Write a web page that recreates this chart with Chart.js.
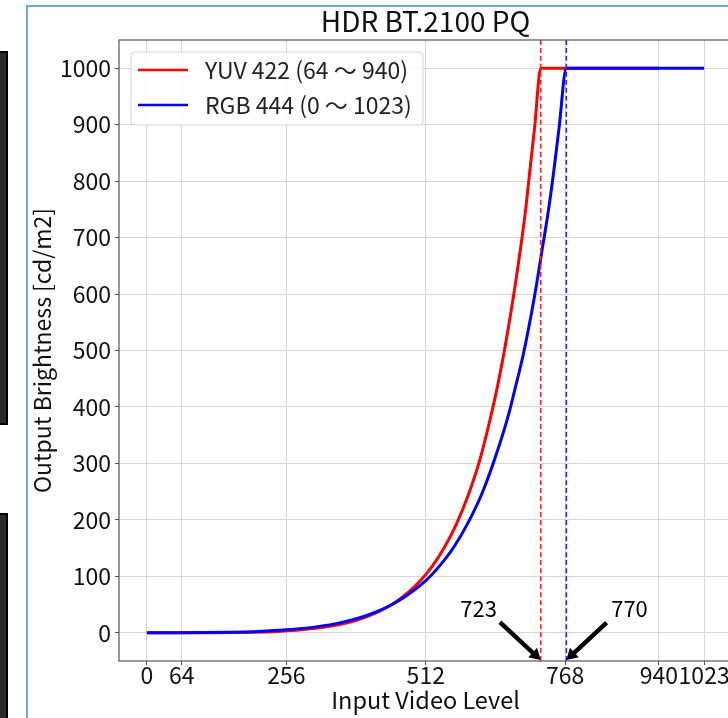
<!DOCTYPE html>
<html>
<head>
<meta charset="utf-8">
<script src="https://cdn.jsdelivr.net/npm/chart.js@4"></script>
<style>
  html, body { margin: 0; padding: 0; background: #fff; overflow: hidden; width: 728px; height: 718px; }
  #frame { position: absolute; left: 26px; top: 5px; width: 760px; height: 760px; border: 2px solid #6ea6df; }
  .blk { position: absolute; left: -2px; width: 6px; background: #2b2b2b; border: 2px solid #000; }
  #wrap { position: absolute; left: 0; top: 0; width: 760px; height: 718px; }
</style>
</head>
<body>
<div class="blk" style="top:51px;height:370px"></div>
<div class="blk" style="top:513px;height:220px"></div>
<div id="frame"></div>
<div id="wrap"><canvas id="chart" width="760" height="718"></canvas></div>
<script>
/* HDR BT.2100 PQ — input level vs output brightness */

const FONT = "'Noto Sans CJK JP', 'Noto Sans', sans-serif";

// ── Data ──────────────────────────────────────────────────────────────────
const yuvLevel = [0, 64, 108, 152, 195, 239, 283, 327, 371, 414, 458, 502, 524, 546, 568, 590,
                  612, 633, 642, 655, 668, 677, 686, 695, 703, 712, 723, 940];
const yuvNits  = [0, 0, 0.06, 0.32, 1.0, 2.4, 5.2, 10, 18.4, 32.5, 55.4, 92.3, 118, 151, 192, 244,
                  309, 390, 429, 493, 566, 621, 681, 747, 818, 897, 1000, 1000];
const rgbLevel = [0, 51, 102, 153, 205, 256, 307, 358, 409, 460, 512, 537, 563, 588, 614, 639,
                  665, 675, 691, 706, 716, 726, 737, 747, 757, 770, 1023];
const rgbNits  = [0, 0.06, 0.32, 1.0, 2.4, 5.2, 10, 18.4, 32.5, 55.4, 92.3, 118, 151, 192, 244, 309,
                  390, 429, 493, 566, 621, 681, 747, 818, 897, 1000, 1000];

const seriesNames = ['YUV 422 (64 ～ 940)', 'RGB 444 (0 ～ 1023)'];
const xTicks      = [0, 64, 256, 512, 768, 940, 1023];
const yTicks      = [0, 100, 200, 300, 400, 500, 600, 700, 800, 900, 1000];
const xRange      = [-51.15, 1074.15];
const yRange      = [-50, 1050];

// clip points + their callouts (data units)
const clipLevels  = [723, 770];
const noteText    = ['723', '770'];
const noteX       = [609, 886];
const noteY       = [42.5, 42.5];
const arrowTailX  = [648, 844];
const arrowTailY  = [19, 18];

const toXY = (xs, ys) => xs.map((x, i) => ({ x, y: ys[i] }));

// ── Plugin: spines, arrows, callout text, legend ──────────────────────────
const decorations = {
    id: 'decorations',
    afterDraw(chart) {
        const { ctx, chartArea: a, scales: { x, y } } = chart;
        ctx.save();

        // axes box
        ctx.strokeStyle = '#555';
        ctx.lineWidth = 1.2;
        ctx.strokeRect(a.left, a.top, a.right - a.left, a.bottom - a.top);

        // arrows
        ctx.fillStyle = '#000';
        clipLevels.forEach((lv, i) => {
            const x1 = x.getPixelForValue(arrowTailX[i]), y1 = y.getPixelForValue(arrowTailY[i]);
            const x2 = x.getPixelForValue(lv),            y2 = y.getPixelForValue(yRange[0]) - 1;
            const len = Math.hypot(x2 - x1, y2 - y1);
            const ux = (x2 - x1) / len, uy = (y2 - y1) / len;
            const px = -uy, py = ux;
            const head = 11, hw = 6.5, sw = 2.2;
            const bx = x2 - ux * head, by = y2 - uy * head;
            ctx.beginPath();
            ctx.moveTo(x1 + px * sw, y1 + py * sw);
            ctx.lineTo(bx + px * sw, by + py * sw);
            ctx.lineTo(bx + px * hw, by + py * hw);
            ctx.lineTo(x2, y2);
            ctx.lineTo(bx - px * hw, by - py * hw);
            ctx.lineTo(bx - px * sw, by - py * sw);
            ctx.lineTo(x1 - px * sw, y1 - py * sw);
            ctx.closePath();
            ctx.fill();

            ctx.font = `22px ${FONT}`;
            ctx.textAlign = 'center';
            ctx.textBaseline = 'middle';
            ctx.fillText(noteText[i], x.getPixelForValue(noteX[i]), y.getPixelForValue(noteY[i]));
        });

        // legend
        const lx = a.left + 12, ly = a.top + 12, lw = 292, lh = 73;
        ctx.beginPath();
        ctx.roundRect(lx, ly, lw, lh, 4);
        ctx.fillStyle = 'rgba(255,255,255,0.85)';
        ctx.fill();
        ctx.strokeStyle = '#d4d4d4';
        ctx.lineWidth = 1;
        ctx.stroke();
        const legendSets = [chart.data.datasets[2], chart.data.datasets[1]];
        legendSets.forEach((ds, i) => {
            const rowY = ly + 18 + i * 35;
            ctx.strokeStyle = ds.borderColor;
            ctx.lineWidth = 2.5;
            ctx.beginPath();
            ctx.moveTo(lx + 7, rowY);
            ctx.lineTo(lx + 57, rowY);
            ctx.stroke();
            ctx.fillStyle = '#222';
            ctx.font = `23px ${FONT}`;
            ctx.textAlign = 'left';
            ctx.textBaseline = 'middle';
            ctx.fillText(ds.label, lx + 74, rowY);
        });

        ctx.restore();
    }
};

// ── Chart ─────────────────────────────────────────────────────────────────
new Chart(document.getElementById('chart'), {
    type: 'scatter',
    data: {
        datasets: [
            { label: 'clip RGB', data: toXY([770, 770], yRange), borderColor: '#1f1fff',
              borderDash: [5, 3], borderWidth: 1.5, order: 0 },
            { label: seriesNames[1], data: toXY(rgbLevel, rgbNits), borderColor: '#0000ff',
              borderWidth: 3, order: 1 },
            { label: seriesNames[0], data: toXY(yuvLevel, yuvNits), borderColor: '#ff0000',
              borderWidth: 3, order: 2 },
            { label: 'clip YUV', data: toXY([723, 723], yRange), borderColor: '#ff1f1f',
              borderDash: [5, 3], borderWidth: 1.5, order: 0 }
        ].map(ds => ({ ...ds, showLine: true, pointRadius: 0, fill: false,
                       cubicInterpolationMode: 'monotone', backgroundColor: ds.borderColor }))
    },
    options: {
        responsive: false,
        animation: false,
        layout: { padding: { left: 28, right: 28, top: 0, bottom: 0 } },
        plugins: {
            legend: { display: false },
            tooltip: { enabled: false },
            title: {
                display: true,
                fullSize: false,
                text: 'HDR BT.2100 PQ',
                color: '#111',
                font: { family: FONT, size: 28, weight: 'normal' },
                padding: { top: 5, bottom: 1.4 }
            }
        },
        scales: {
            x: {
                type: 'linear',
                min: xRange[0],
                max: xRange[1],
                afterBuildTicks: s => { s.ticks = xTicks.map(v => ({ value: v })); },
                afterFit: s => { s.height = 57; },
                ticks: { autoSkip: false, maxRotation: 0, minRotation: 0, padding: -4,
                         color: '#111', font: { family: FONT, size: 23 }, callback: v => String(v) },
                grid: { color: '#d6d6d6', tickColor: '#555', tickLength: 4 },
                border: { display: false },
                title: { display: true, text: 'Input Video Level', color: '#111',
                         font: { family: FONT, size: 23.5 }, padding: { top: 0, bottom: 4 } }
            },
            y: {
                min: yRange[0],
                max: yRange[1],
                afterBuildTicks: s => { s.ticks = yTicks.map(v => ({ value: v })); },
                afterFit: s => { s.width = 91; },
                ticks: { padding: 4, color: '#111', font: { family: FONT, size: 23 },
                         callback: v => String(v) },
                grid: { color: '#d6d6d6', tickColor: '#555', tickLength: 4 },
                border: { display: false },
                title: { display: true, text: 'Output Brightness [cd/m2]', color: '#111',
                         font: { family: FONT, size: 23 }, padding: { top: 0, bottom: 0 } }
            }
        }
    },
    plugins: [decorations]
});
</script>
</body>
</html>
